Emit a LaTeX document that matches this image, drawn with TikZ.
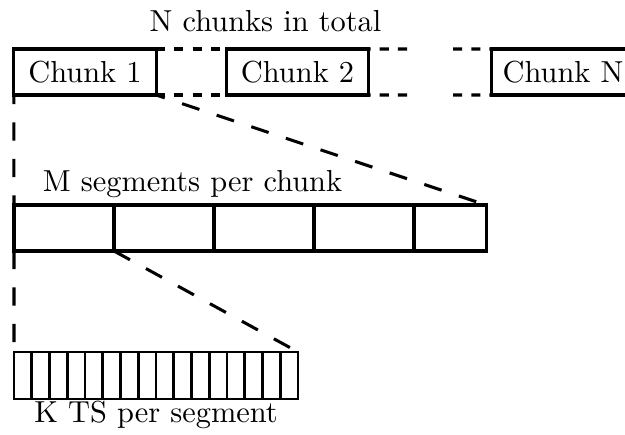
\documentclass[tikz,border=0pt]{standalone}
\begin{document}
\begin{tikzpicture}[x=0.329pt,y=-0.329pt,
  box/.style={draw,line width=1pt,inner sep=0pt,outer sep=0pt},
  chunkbox/.style={box,minimum width=46.8pt,minimum height=15.13pt},
  segbox/.style={box,minimum width=32.9pt,minimum height=15.13pt},
  tsbox/.style={box,line width=0.9pt,minimum width=5.84pt,minimum height=15.46pt},
  gapline/.style={line width=1pt,dashed},
  zoomline/.style={line width=1pt,dash pattern=on 6pt off 6pt},
  lbl/.style={inner sep=0pt,anchor=base}]
\useasboundingbox (0,0) rectangle (625,434);

% top row: the chunks
\node[chunkbox] (c1) at (85,72) {Chunk 1};
\node[chunkbox] (c2) at (297.5,72) {Chunk 2};
\node[chunkbox] (cN) at (563,72) {Chunk N};
\coordinate (dotsLt) at (407,49);
\coordinate (dotsLb) at (407,95);
\coordinate (dotsRt) at (453,49);
\coordinate (dotsRb) at (453,95);
\draw[gapline] (c1.north east) -- (c2.north west);
\draw[gapline] (c1.south east) -- (c2.south west);
\draw[gapline] (dotsLt) -- (c2.north east);
\draw[gapline] (dotsLb) -- (c2.south east);
\draw[gapline] (dotsRt) -- (cN.north west);
\draw[gapline] (dotsRb) -- (cN.south west);
\node[lbl] (ntot) at (265.5,31) {N chunks in total};

% middle row: segments of one chunk
\foreach \i in {1,...,4}{
  \node[segbox] (s\i) at ({64+100*(\i-1)},228) {};
}
\node[box,minimum width=23.7pt,minimum height=15.13pt] (s5) at (450,228) {};
\node[lbl] (mseg) at (192.5,191) {M segments per chunk};

% bottom row: time steps of one segment
\foreach \i in {1,...,16}{
  \node[tsbox] (k\i) at ({14+17.75*(\i-0.5)},375.5) {};
}
\node[lbl] (kts) at (156,422) {K TS per segment};

% zoom-in guides
\draw[zoomline,dash phase=3pt] (c1.south west) -- (s1.north west);
\draw[zoomline,dash phase=3pt] (c1.south east) -- (s5.north east);
\draw[zoomline] (s1.south west) -- (k1.north west);
\draw[zoomline] (s1.south east) -- (k16.north east);
\end{tikzpicture}
\end{document}
